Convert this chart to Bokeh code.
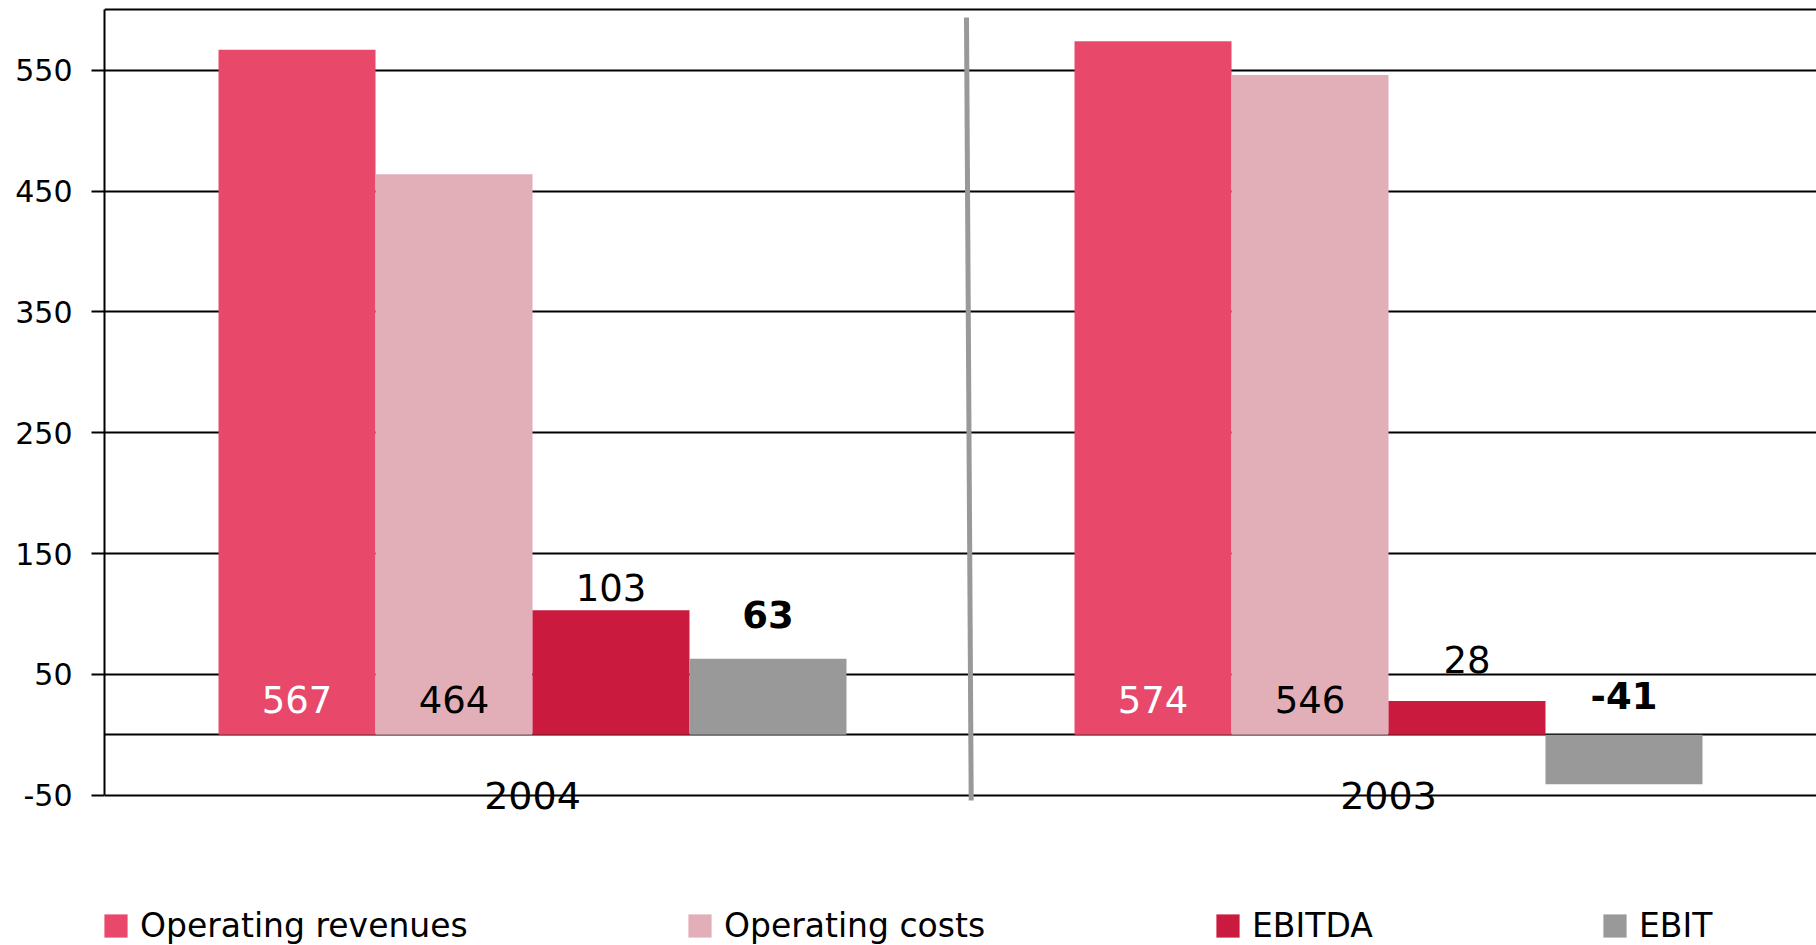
from bokeh.plotting import figure
from bokeh.models import (ColumnDataSource, FactorRange, Range1d, FixedTicker,
                          Legend, LegendItem, PrintfTickFormatter)
from bokeh.transform import dodge
from bokeh.core.properties import value
from bokeh.embed import file_html
from bokeh.resources import INLINE

# ---- data ----
years = ["2004", "2003"]
series = ["Operating revenues", "Operating costs", "EBITDA", "EBIT"]
operating_revenues = [567, 574]
operating_costs = [464, 546]
ebitda = [103, 28]
ebit = [63, -41]
y_ticks = [-50, 50, 150, 250, 350, 450, 550]
y_min, y_max = -50, 600

# ---- style / layout ----
colors = ["#E8486A", "#E2AEB7", "#CA1B3E", "#999999"]
label_colors = ["white", "black", "black", "black"]
label_styles = ["normal", "normal", "normal", "bold"]
# pixel offsets of value labels: anchor is 0 for the first two series, bar top otherwise
label_dy = [[-35, -35], [-35, -35], [-23, -41], [-44, -39]]
legend_x = [-3, 581, 1109, 1496]
FONT = value("DejaVu Sans")
INK = "#000000"

W, H = 1816, 945
LEFT = 104            # px, frame left
TOP_PAD = 9.3         # px from top of figure to the y_max line
PX_PER_UNIT = 1.2083  # vertical scale
view_top = y_max + TOP_PAD / PX_PER_UNIT
view_bottom = view_top - H / PX_PER_UNIT

values = [operating_revenues, operating_costs, ebitda, ebit]

p = figure(width=W, height=H,
           x_range=FactorRange(*years, range_padding=0, factor_padding=0),
           y_range=Range1d(view_bottom, view_top),
           output_backend="svg", toolbar_location=None,
           min_border_left=LEFT, min_border_right=0, min_border_top=0,
           min_border_bottom=0)
p.outline_line_color = None
p.background_fill_color = "white"
p.border_fill_color = "white"

# axes
p.xaxis.visible = False
p.xgrid.visible = False
yax = p.yaxis[0]
yax.bounds = (y_min, y_max)
yax.ticker = FixedTicker(ticks=y_ticks)
yax.formatter = PrintfTickFormatter(format="%d")
yax.axis_line_color = INK
yax.axis_line_width = 2
yax.major_tick_line_color = INK
yax.major_tick_line_width = 2
yax.major_tick_out = 13
yax.major_tick_in = 0
yax.minor_tick_out = 0
yax.minor_tick_in = 0
yax.major_label_standoff = 19
yax.major_label_text_font = "DejaVu Sans"
yax.major_label_text_font_size = "30px"
yax.major_label_text_color = INK

p.ygrid.ticker = FixedTicker(ticks=sorted(set(y_ticks + [0, y_max])))
p.ygrid.grid_line_color = INK
p.ygrid.grid_line_width = 2

# bars
n = len(series)
bar_w = 0.1834
src = ColumnDataSource(dict(year=years, **{f"s{i}": v for i, v in enumerate(values)}))
renderers = []
for i in range(n):
    off = (i - (n - 1) / 2) * bar_w
    r = p.vbar(x=dodge("year", off, range=p.x_range), top=f"s{i}", bottom=0,
               width=bar_w, source=src, fill_color=colors[i], line_color=None)
    renderers.append(r)

    anchors = [0 if i < 2 else max(v, 0) for v in values[i]]
    lsrc = ColumnDataSource(dict(year=years, y=anchors, dy=label_dy[i],
                                 label=[str(v) for v in values[i]]))
    p.text(x=dodge("year", off, range=p.x_range), y="y", y_offset="dy", text="label",
           source=lsrc, text_color=label_colors[i], text_font=FONT,
           text_font_size="37px", text_font_style=label_styles[i],
           text_align="center", text_baseline="middle")

# separator between year groups
sep_x = len(years) / 2
p.segment(x0=[sep_x + 0.007], y0=[593.6], x1=[sep_x + 0.0125], y1=[y_min - 4.4],
          line_color="#999999", line_width=5)

# year labels on the bottom line
ysrc = ColumnDataSource(dict(year=years, y=[y_min] * len(years)))
p.text(x="year", y="y", text="year", source=ysrc,
       text_font=FONT, text_font_size="38px", text_color=INK,
       text_align="center", text_baseline="middle")

# legend
for i in range(n):
    leg = Legend(items=[LegendItem(label=series[i], renderers=[renderers[i]])],
                 location=(legend_x[i], 0), orientation="horizontal",
                 glyph_width=29, glyph_height=29, label_standoff=10,
                 padding=0, margin=0, spacing=0, border_line_color=None,
                 background_fill_alpha=0, label_text_font="DejaVu Sans",
                 label_text_font_size="33px", label_text_color=INK)
    p.add_layout(leg, "center")

open("out.html", "w").write(file_html(p, INLINE))
